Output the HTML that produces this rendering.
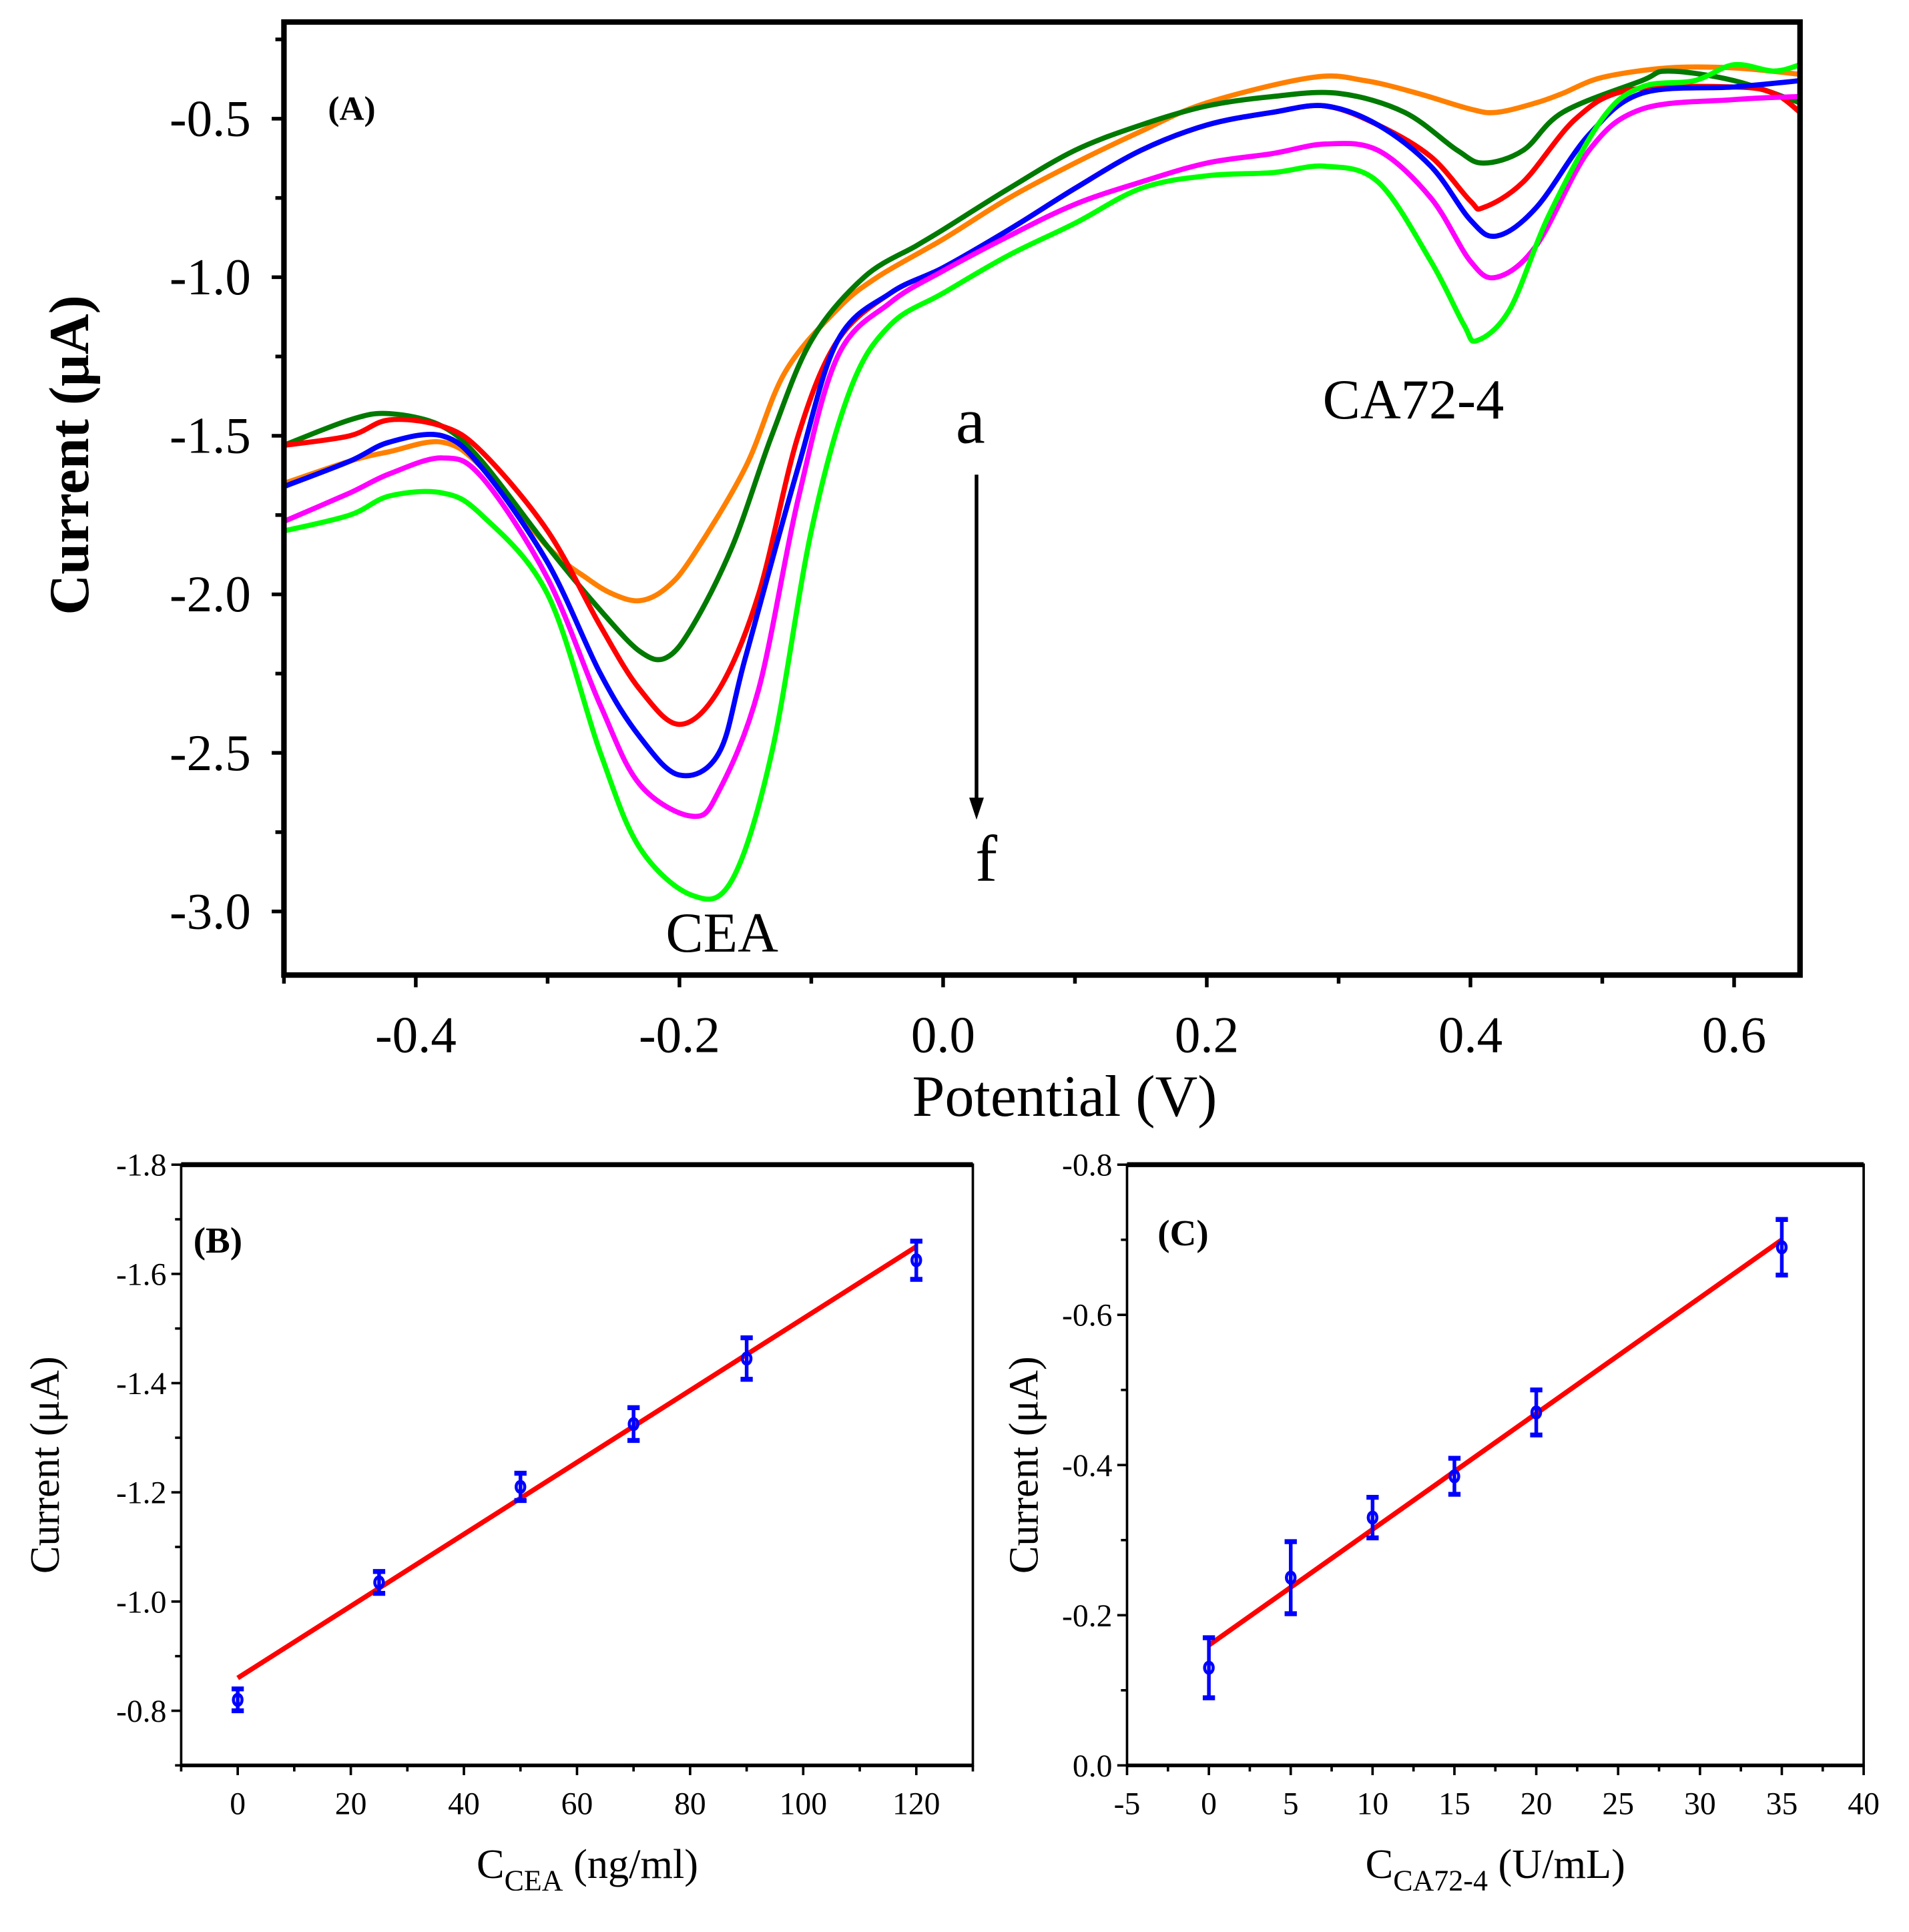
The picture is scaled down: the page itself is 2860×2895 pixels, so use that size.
<!DOCTYPE html>
<html><head><meta charset="utf-8">
<style>
html,body{margin:0;padding:0;background:#fff;}
svg{display:block;}
text{font-family:"Liberation Serif",serif;fill:#000;}
</style></head>
<body>
<svg id="fig" width="2860" height="2895" viewBox="0 0 1560 1579.2" xmlns="http://www.w3.org/2000/svg">
<g id="pA"></g>
<g id="pB"></g>
<g id="pC"></g>
</svg>
<script>
// ---------- Panel A data ----------
const curveNames = ['a','b','c','d','e','f'];
const curveColors = ['#ff8000','#007a00','#ff0000','#0000ff','#ff00ff','#00ff00'];
const xA_a = [-0.5,-0.45,-0.42,-0.38,-0.35,-0.3,-0.27,-0.25,-0.23,-0.21,-0.19,-0.15,-0.12,-0.08,-0.05,0,0.05,0.1,0.15,0.2,0.28,0.32,0.36,0.4,0.42,0.45,0.47,0.5,0.55,0.6,0.65];
const yA_a = [-1.65,-1.58,-1.55,-1.52,-1.6,-1.85,-1.95,-2.0,-2.02,-1.98,-1.88,-1.6,-1.3,-1.1,-1.0,-0.88,-0.75,-0.64,-0.54,-0.45,-0.37,-0.38,-0.42,-0.47,-0.48,-0.45,-0.42,-0.37,-0.34,-0.34,-0.36];
const xA_b = [-0.5,-0.45,-0.42,-0.38,-0.35,-0.3,-0.26,-0.23,-0.21,-0.19,-0.16,-0.13,-0.1,-0.06,-0.02,0,0.05,0.1,0.15,0.2,0.25,0.3,0.35,0.39,0.41,0.44,0.47,0.53,0.55,0.6,0.65];
const yA_b = [-1.53,-1.45,-1.43,-1.47,-1.58,-1.85,-2.05,-2.18,-2.2,-2.1,-1.85,-1.5,-1.2,-1.0,-0.9,-0.85,-0.72,-0.6,-0.52,-0.46,-0.43,-0.42,-0.48,-0.6,-0.64,-0.6,-0.48,-0.38,-0.35,-0.38,-0.45];
const xA_c = [-0.5,-0.45,-0.42,-0.38,-0.35,-0.3,-0.26,-0.23,-0.2,-0.17,-0.14,-0.11,-0.08,-0.04,0,0.05,0.1,0.15,0.2,0.25,0.29,0.33,0.37,0.4,0.41,0.44,0.48,0.52,0.6,0.63,0.65];
const yA_c = [-1.53,-1.5,-1.45,-1.47,-1.55,-1.8,-2.1,-2.3,-2.41,-2.3,-2.0,-1.5,-1.2,-1.05,-0.97,-0.85,-0.72,-0.6,-0.52,-0.48,-0.46,-0.52,-0.62,-0.76,-0.78,-0.7,-0.5,-0.41,-0.4,-0.42,-0.48];
const xA_d = [-0.5,-0.45,-0.42,-0.38,-0.35,-0.3,-0.26,-0.23,-0.2,-0.17,-0.15,-0.11,-0.08,-0.04,0,0.05,0.1,0.15,0.2,0.25,0.29,0.33,0.37,0.4,0.42,0.45,0.49,0.53,0.6,0.65];
const yA_d = [-1.66,-1.58,-1.52,-1.5,-1.6,-1.9,-2.25,-2.45,-2.57,-2.5,-2.2,-1.6,-1.2,-1.05,-0.97,-0.85,-0.72,-0.6,-0.52,-0.48,-0.46,-0.52,-0.65,-0.82,-0.87,-0.78,-0.55,-0.42,-0.4,-0.38];
const xA_e = [-0.5,-0.45,-0.42,-0.38,-0.35,-0.3,-0.26,-0.23,-0.19,-0.17,-0.14,-0.11,-0.08,-0.04,0,0.05,0.1,0.15,0.2,0.25,0.29,0.33,0.37,0.4,0.42,0.45,0.49,0.53,0.6,0.65];
const yA_e = [-1.77,-1.68,-1.62,-1.57,-1.63,-1.95,-2.35,-2.6,-2.7,-2.62,-2.3,-1.7,-1.25,-1.08,-0.98,-0.87,-0.77,-0.7,-0.64,-0.61,-0.58,-0.6,-0.75,-0.95,-1.0,-0.9,-0.6,-0.47,-0.44,-0.43];
const xA_f = [-0.5,-0.45,-0.42,-0.38,-0.35,-0.3,-0.26,-0.23,-0.19,-0.16,-0.13,-0.1,-0.07,-0.04,0,0.05,0.1,0.15,0.2,0.25,0.29,0.33,0.37,0.395,0.405,0.43,0.46,0.5,0.53,0.57,0.6,0.63,0.65];
const yA_f = [-1.8,-1.75,-1.69,-1.68,-1.75,-2.0,-2.5,-2.8,-2.95,-2.9,-2.5,-1.8,-1.35,-1.15,-1.05,-0.93,-0.83,-0.72,-0.68,-0.67,-0.65,-0.7,-0.95,-1.15,-1.2,-1.1,-0.8,-0.5,-0.4,-0.38,-0.33,-0.35,-0.33];
const xTicksA = [-0.4,-0.2,0.0,0.2,0.4,0.6];
const xTickLabelsA = ['-0.4','-0.2','0.0','0.2','0.4','0.6'];
const yTicksA = [-0.5,-1.0,-1.5,-2.0,-2.5,-3.0];
const yTickLabelsA = ['-0.5','-1.0','-1.5','-2.0','-2.5','-3.0'];

// ---------- Panel B data ----------
const concB = [0,25,50,70,90,120];
const currB = [-0.82,-1.035,-1.21,-1.325,-1.445,-1.625];
const errB = [0.02,0.02,0.025,0.03,0.038,0.035];
const fitB = [-0.86,-1.65]; // at x=0 and x=120
const xTicksB = [0,20,40,60,80,100,120];
const yTicksB = [-1.8,-1.6,-1.4,-1.2,-1.0,-0.8];
const yTickLabelsB = ['-1.8','-1.6','-1.4','-1.2','-1.0','-0.8'];

// ---------- Panel C data ----------
const concC = [0,5,10,15,20,35];
const currC = [-0.13,-0.25,-0.33,-0.385,-0.47,-0.69];
const errC = [0.04,0.048,0.027,0.024,0.03,0.037];
const fitC = [-0.16,-0.70]; // at x=0 and x=35
const xTicksC = [-5,0,5,10,15,20,25,30,35,40];
const yTicksC = [-0.8,-0.6,-0.4,-0.2,0.0];
const yTickLabelsC = ['-0.8','-0.6','-0.4','-0.2','0.0'];

const NS='http://www.w3.org/2000/svg';
function mk(parent,tag,attrs,txt){const e=document.createElementNS(NS,tag);for(const k in attrs)e.setAttribute(k,attrs[k]);if(txt!==undefined)e.textContent=txt;parent.appendChild(e);return e;}
function lin(d0,d1,r0,r1){return v=>r0+(v-d0)*(r1-r0)/(d1-d0);}
function smoothPath(pts){let d='M'+pts[0][0].toFixed(1)+','+pts[0][1].toFixed(1);
 for(let i=0;i<pts.length-1;i++){const p0=pts[Math.max(0,i-1)],p1=pts[i],p2=pts[i+1],p3=pts[Math.min(pts.length-1,i+2)];
 const c1=[p1[0]+(p2[0]-p0[0])/6,p1[1]+(p2[1]-p0[1])/6],c2=[p2[0]-(p3[0]-p1[0])/6,p2[1]-(p3[1]-p1[1])/6];
 d+=' C'+c1[0].toFixed(1)+','+c1[1].toFixed(1)+' '+c2[0].toFixed(1)+','+c2[1].toFixed(1)+' '+p2[0].toFixed(1)+','+p2[1].toFixed(1);}return d;}

// ===== Panel A =====
(function(){
const g=document.getElementById('pA');
const L=232,R=1471,T=18,B=797;
const sx=lin(-0.5,0.65,L,R), sy=lin(-0.5,-3.0,97,745);
const xs=[xA_a,xA_b,xA_c,xA_d,xA_e,xA_f], ys=[yA_a,yA_b,yA_c,yA_d,yA_e,yA_f];
for(let k=0;k<6;k++){
 const p=mk(g,'path',{d:smoothPath(xs[k].map((x,i)=>[sx(x),sy(ys[k][i])])),fill:'none',stroke:curveColors[k],'stroke-width':4.2,'stroke-linejoin':'round'});
 
 
}
const fr=mk(g,'rect',{x:L,y:T,width:R-L,height:B-T,fill:'none',stroke:'#000','stroke-width':4.5});

for(let v=-0.5;v<=0.651;v+=0.1){const X=sx(v);const major=xTicksA.some(t=>Math.abs(t-v)<1e-6);
 mk(g,'line',{x1:X,x2:X,y1:B,y2:B+(major?10:7),stroke:'#000','stroke-width':3});}
xTicksA.forEach((v,i)=>{const t=mk(g,'text',{x:sx(v),y:860,'font-size':42,'text-anchor':'middle'},xTickLabelsA[i]);
 });
for(let v=-0.25;v>=-3.2;v-=0.25){const Y=sy(v);const major=yTicksA.some(t=>Math.abs(t-v)<1e-6);
 mk(g,'line',{x1:L,x2:L-(major?10:7),y1:Y,y2:Y,stroke:'#000','stroke-width':3});}
yTicksA.forEach((v,i)=>{const t=mk(g,'text',{x:205,y:sy(v)+14,'font-size':42,'text-anchor':'end'},yTickLabelsA[i]);
 });
let t;
t=mk(g,'text',{x:870,y:912,'font-size':48,'text-anchor':'middle'},'Potential (V)');
t=mk(g,'text',{x:0,y:0,'font-size':46,'font-weight':'bold','text-anchor':'middle',transform:'translate(72,372) rotate(-90)'},'Current (μA)');
t=mk(g,'text',{x:268,y:98,'font-size':28,'font-weight':'bold'},'(A)');
t=mk(g,'text',{x:590,y:778,'font-size':46,'text-anchor':'middle'},'CEA');
t=mk(g,'text',{x:1155,y:342,'font-size':46,'text-anchor':'middle'},'CA72-4');
t=mk(g,'text',{x:793,y:362,'font-size':54,'text-anchor':'middle'},'a');
t=mk(g,'text',{x:806,y:720,'font-size':54,'text-anchor':'middle'},'f');
const ar=mk(g,'line',{x1:798,x2:798,y1:388,y2:655,stroke:'#000','stroke-width':3});
mk(g,'polygon',{points:'792,652 804,652 798,670',fill:'#000'});
})();

// ===== calibration panels =====
function calib(g,L,R,T,B,xd,yd,xs,ys,es,fit,xt,xtl,yt,ytl,minorX,minorY,label,lx,ly,xTitleMain,xTitleSub,xTitleRest,ycx,xcx,id){
 const sx=lin(xd[0],xd[1],L,R), sy=lin(yd[0],yd[1],T,B);
 const fr=mk(g,'rect',{x:L,y:T,width:R-L,height:B-T,fill:'none',stroke:'#000','stroke-width':2});
 
 mk(g,'line',{x1:L,x2:R,y1:T,y2:T,stroke:'#000','stroke-width':4});
 mk(g,'line',{x1:L,x2:R,y1:B,y2:B,stroke:'#000','stroke-width':3});
 for(let v=xd[0];v<=xd[1]+1e-6;v+=minorX){const X=sx(v);const major=xt.some(t=>Math.abs(t-v)<1e-6);
  mk(g,'line',{x1:X,x2:X,y1:B,y2:B+(major?8:5),stroke:'#000','stroke-width':2});}
 xt.forEach((v,i)=>{const t=mk(g,'text',{x:sx(v),y:B+40,'font-size':26,'text-anchor':'middle'},xtl[i]);
  });
 const lo=Math.min(yd[0],yd[1]),hi=Math.max(yd[0],yd[1]);
 for(let v=lo;v<=hi+1e-6;v+=minorY){const Y=sy(v);const major=yt.some(t=>Math.abs(t-v)<1e-6);
  mk(g,'line',{x1:L,x2:L-(major?8:5),y1:Y,y2:Y,stroke:'#000','stroke-width':2});}
 yt.forEach((v,i)=>{const t=mk(g,'text',{x:L-12,y:sy(v)+9,'font-size':26,'text-anchor':'end'},ytl[i]);
  });
 const fl=mk(g,'line',{x1:sx(xs[0]),y1:sy(fit[0]),x2:sx(xs[xs.length-1]),y2:sy(fit[1]),stroke:'#ff0000','stroke-width':4});
 
 xs.forEach((x,i)=>{const X=sx(x),Y=sy(ys[i]),y1=sy(ys[i]-es[i]),y2=sy(ys[i]+es[i]);
  const eb=mk(g,'line',{x1:X,x2:X,y1:y1,y2:y2,stroke:'#0000ff','stroke-width':3});
  
  mk(g,'line',{x1:X-5,x2:X+5,y1:y1,y2:y1,stroke:'#0000ff','stroke-width':4});
  mk(g,'line',{x1:X-5,x2:X+5,y1:y2,y2:y2,stroke:'#0000ff','stroke-width':4});
  const c=mk(g,'ellipse',{cx:X,cy:Y,rx:3.5,ry:4.5,fill:'none',stroke:'#0000ff','stroke-width':2.5});
  });
 let t=mk(g,'text',{x:lx,y:ly,'font-size':30,'font-weight':'bold'},label);
 t=mk(g,'text',{x:0,y:0,'font-size':34,'text-anchor':'middle',transform:'translate('+ycx+','+((T+B)/2)+') rotate(-90)'},'Current (μA)');
 
 t=mk(g,'text',{x:xcx,y:1535,'font-size':34,'text-anchor':'middle'});
 
 const s1=document.createElementNS(NS,'tspan');s1.textContent=xTitleMain;t.appendChild(s1);
 const s2=document.createElementNS(NS,'tspan');s2.setAttribute('font-size','24');s2.setAttribute('dy','10');s2.textContent=xTitleSub;t.appendChild(s2);
 const s3=document.createElementNS(NS,'tspan');s3.setAttribute('dy','-10');s3.textContent=xTitleRest;t.appendChild(s3);
}
calib(document.getElementById('pB'),148,795,952,1443,[-10,130],[-1.8,-0.7],concB,currB,errB,fitB,
 xTicksB,xTicksB.map(String),yTicksB,yTickLabelsB,10,0.1,'(B)',158,1024,'C','CEA',' (ng/ml)',48,480,'b');
calib(document.getElementById('pC'),921,1523,952,1443,[-5,40],[-0.8,0.0],concC,currC,errC,fitC,
 xTicksC,xTicksC.map(String),yTicksC,yTickLabelsC,2.5,0.1,'(C)',946,1018,'C','CA72-4',' (U/mL)',848,1222,'c');
</script>
</body></html>
